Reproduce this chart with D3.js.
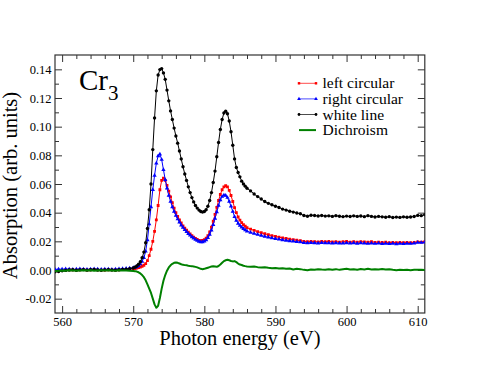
<!DOCTYPE html>
<html><head><meta charset="utf-8">
<script src="https://cdn.jsdelivr.net/npm/d3@7"></script>
<style>
body{margin:0;background:#fff}
svg{display:block;background:#fff}
svg text{font-family:"Liberation Serif","Times New Roman",Times,serif !important;fill:#000}
</style>
</head><body>
<svg id="chart" width="479" height="370"></svg>
<script>
// ---------- data ----------
const energy = [
  559,559.5,560,560.5,561,561.5,562,562.5,563,563.5,564,564.5,565,565.5,566,566.5,567,567.5,568,568.5,569,569.5,570,
  570.25,570.5,570.75,571,571.25,571.5,571.75,572,572.25,572.5,572.75,573,573.25,573.5,573.75,574,
  574.25,574.5,574.75,575,575.25,575.5,575.75,576,576.25,576.5,576.75,577,577.25,577.5,577.75,578,
  578.25,578.5,578.75,579,579.25,579.5,579.75,580,580.25,580.5,580.75,581,581.25,581.5,581.75,582,
  582.25,582.5,582.75,583,583.25,583.5,583.75,584,584.25,584.5,584.75,585,585.25,585.5,585.75,586,
  586.5,587,587.5,588,588.5,589,589.5,590,590.5,591,591.5,592,592.5,593,593.5,594,594.5,595,595.5,596,
  596.5,597,597.5,598,598.5,599,599.5,600,600.5,601,601.5,602,602.5,603,603.5,604,604.5,605,605.5,606,
  606.5,607,607.5,608,608.5,609,609.5,610,610.5,611
];
const whiteLine = [
  -0.0012,-0.0010,-0.0006,-0.0003,0.0000,0.0002,-0.0002,0.0001,0.0003,-0.0001,0.0002,0.0004,0.0000,-0.0002,0.0001,0.0003,0.0000,-0.0001,0.0002,0.0004,0.0006,0.0009,0.0014,
  0.0020,0.0028,0.0040,0.0058,0.0085,0.0125,0.0190,0.0290,0.0420,0.0600,0.0840,0.1060,0.1250,0.1360,0.1398,0.1405,
  0.1375,0.1330,0.1255,0.1180,0.1110,0.1050,0.0990,0.0935,0.0885,0.0830,0.0775,0.0720,0.0670,0.0625,0.0580,0.0540,
  0.0505,0.0475,0.0450,0.0432,0.0418,0.0408,0.0404,0.0408,0.0420,0.0445,0.0485,0.0540,0.0610,0.0690,0.0790,0.0890,
  0.0980,0.1050,0.1095,0.1108,0.1090,0.1040,0.0965,0.0870,0.0775,0.0715,0.0680,0.0650,0.0620,0.0600,0.0585,0.0570,
  0.0552,0.0530,0.0512,0.0495,0.0478,0.0465,0.0455,0.0445,0.0436,0.0425,0.0418,0.0410,0.0404,0.0398,0.0392,0.0380,0.0375,0.0382,0.0380,0.0377,
  0.0380,0.0376,0.0378,0.0374,0.0379,0.0375,0.0372,0.0376,0.0373,0.0378,0.0374,0.0377,0.0372,0.0379,0.0374,0.0370,0.0374,0.0371,0.0368,0.0372,
  0.0366,0.0369,0.0367,0.0371,0.0368,0.0370,0.0373,0.0381,0.0379,0.0386
];
const leftCircular = [
  -0.0006,-0.0004,-0.0002,0.0000,0.0002,0.0001,-0.0001,0.0002,0.0003,0.0000,0.0001,0.0003,0.0001,-0.0001,0.0000,0.0002,0.0001,0.0000,0.0002,0.0003,0.0004,0.0006,0.0008,
  0.0010,0.0013,0.0017,0.0021,0.0026,0.0033,0.0045,0.0065,0.0100,0.0145,0.0200,0.0270,0.0350,0.0450,0.0560,0.0625,
  0.0640,0.0625,0.0590,0.0550,0.0510,0.0470,0.0432,0.0400,0.0373,0.0350,0.0328,0.0308,0.0292,0.0278,0.0264,0.0252,
  0.0240,0.0229,0.0220,0.0213,0.0207,0.0205,0.0206,0.0211,0.0222,0.0240,0.0265,0.0298,0.0340,0.0388,0.0437,0.0485,
  0.0527,0.0560,0.0580,0.0588,0.0580,0.0556,0.0520,0.0478,0.0435,0.0400,0.0370,0.0348,0.0330,0.0316,0.0305,0.0295,
  0.0285,0.0276,0.0268,0.0260,0.0253,0.0246,0.0240,0.0234,0.0229,0.0224,0.0220,0.0216,0.0212,0.0208,0.0205,0.0200,0.0197,0.0199,0.0198,0.0196,
  0.0199,0.0197,0.0200,0.0196,0.0198,0.0195,0.0197,0.0199,0.0195,0.0197,0.0194,0.0198,0.0196,0.0194,0.0197,0.0193,0.0195,0.0192,0.0194,0.0191,
  0.0193,0.0190,0.0192,0.0191,0.0193,0.0190,0.0192,0.0196,0.0195,0.0197
];
const rightCircular = [
  0.0004,0.0006,0.0005,0.0007,0.0006,0.0004,0.0005,0.0007,0.0006,0.0004,0.0006,0.0007,0.0005,0.0004,0.0006,0.0005,0.0004,0.0006,0.0007,0.0008,0.0010,0.0012,0.0015,
  0.0018,0.0022,0.0030,0.0042,0.0060,0.0085,0.0130,0.0210,0.0320,0.0440,0.0560,0.0660,0.0745,0.0795,0.0808,0.0770,
  0.0700,0.0630,0.0570,0.0520,0.0478,0.0440,0.0408,0.0380,0.0355,0.0333,0.0313,0.0296,0.0280,0.0266,0.0253,0.0242,
  0.0231,0.0221,0.0212,0.0205,0.0199,0.0196,0.0196,0.0200,0.0210,0.0225,0.0248,0.0278,0.0315,0.0360,0.0405,0.0450,
  0.0488,0.0512,0.0522,0.0520,0.0505,0.0478,0.0445,0.0408,0.0372,0.0345,0.0325,0.0310,0.0298,0.0288,0.0279,0.0271,
  0.0262,0.0254,0.0247,0.0240,0.0234,0.0228,0.0223,0.0218,0.0214,0.0210,0.0206,0.0203,0.0200,0.0197,0.0195,0.0190,0.0188,0.0190,0.0189,0.0187,
  0.0190,0.0188,0.0189,0.0186,0.0189,0.0187,0.0186,0.0189,0.0186,0.0188,0.0185,0.0188,0.0186,0.0184,0.0187,0.0184,0.0186,0.0183,0.0185,0.0183,
  0.0185,0.0182,0.0184,0.0183,0.0185,0.0184,0.0186,0.0192,0.0191,0.0194
];
const dichroism = [
  -0.0008,-0.0006,-0.0003,-0.0005,-0.0002,-0.0004,-0.0006,-0.0003,-0.0001,-0.0004,-0.0002,-0.0005,-0.0003,-0.0001,-0.0004,-0.0002,-0.0003,-0.0005,-0.0002,-0.0003,-0.0004,-0.0005,-0.0007,
  -0.0008,-0.0011,-0.0016,-0.0024,-0.0035,-0.0050,-0.0072,-0.0100,-0.0130,-0.0160,-0.0200,-0.0240,-0.0263,-0.0250,-0.0195,-0.0130,
  -0.0075,-0.0035,-0.0005,0.0018,0.0033,0.0043,0.0050,0.0053,0.0050,0.0045,0.0040,0.0036,0.0034,0.0033,0.0030,0.0028,
  0.0027,0.0025,0.0022,0.0018,0.0013,0.0008,0.0006,0.0008,0.0012,0.0016,0.0020,0.0024,0.0026,0.0024,0.0022,0.0028,
  0.0038,0.0050,0.0062,0.0068,0.0072,0.0068,0.0063,0.0060,0.0062,0.0055,0.0045,0.0038,0.0035,0.0030,0.0027,0.0025,
  0.0022,0.0024,0.0020,0.0018,0.0019,0.0015,0.0012,0.0014,0.0010,0.0012,0.0008,0.0010,0.0004,0.0009,0.0006,0.0001,-0.0002,0.0004,0.0002,0.0006,
  0.0003,0.0001,0.0005,0.0002,0.0006,0.0001,0.0005,0.0008,0.0003,0.0006,0.0002,0.0007,0.0004,0.0008,0.0003,0.0006,0.0004,0.0007,0.0003,0.0005,
  0.0001,-0.0001,0.0002,0.0000,0.0001,-0.0001,0.0001,0.0002,0.0001,0.0000
];
const seriesNames = ["left circular","right circular","white line","Dichroism"];
const xTickValues = [560,570,580,590,600,610];
const yTickValues = [-0.02,0.00,0.02,0.04,0.06,0.08,0.10,0.12,0.14];
const xLabel = "Photon energy (eV)";
const yLabel = "Absorption (arb. units)";

// ---------- chart ----------
const FONT = '"Liberation Serif","Times New Roman",Times,serif';
const svg = d3.select("#chart");
const L = 55, R = 424.8, T = 55, B = 313;
const x = d3.scaleLinear().domain([559, 611]).range([L, R]);
const y = d3.scaleLinear().domain([-0.03, 0.15]).range([B, T]);
const axisColor = "#333";

const xMinor = d3.range(560, 611, 2).filter(v => !xTickValues.includes(v));
const yMinor = d3.range(-3, 16, 2).map(v => v / 100).filter(v => v > -0.03 && v < 0.15);

svg.append("defs").append("clipPath").attr("id","clip")
  .append("rect").attr("x",L).attr("y",T).attr("width",R-L).attr("height",B-T);

function styleAxis(g){
  g.attr("font-family", FONT);
  g.select(".domain").remove();
  g.selectAll(".tick line").attr("stroke", axisColor);
  g.selectAll("text").style("font-family", FONT).style("font-size","12.5px").attr("fill","#000");
}
const fmtX = d => String(d);
const fmtY = d => d.toFixed(2);

// bottom
svg.append("g").attr("transform",`translate(0,${B})`)
  .call(d3.axisBottom(x).tickValues(xTickValues).tickSize(-7).tickPadding(4.5).tickFormat(fmtX)).call(styleAxis);
svg.append("g").attr("transform",`translate(0,${B})`)
  .call(d3.axisBottom(x).tickValues(xMinor).tickSize(-4).tickFormat("")).call(styleAxis);
// top
svg.append("g").attr("transform",`translate(0,${T})`)
  .call(d3.axisTop(x).tickValues(xTickValues).tickSize(-7).tickFormat("")).call(styleAxis);
svg.append("g").attr("transform",`translate(0,${T})`)
  .call(d3.axisTop(x).tickValues(xMinor).tickSize(-4).tickFormat("")).call(styleAxis);
// left
svg.append("g").attr("transform",`translate(${L},0)`)
  .call(d3.axisLeft(y).tickValues(yTickValues).tickSize(-7).tickPadding(3.5).tickFormat(fmtY)).call(styleAxis);
svg.append("g").attr("transform",`translate(${L},0)`)
  .call(d3.axisLeft(y).tickValues(yMinor).tickSize(-4).tickFormat("")).call(styleAxis);
// right
svg.append("g").attr("transform",`translate(${R},0)`)
  .call(d3.axisRight(y).tickValues(yTickValues).tickSize(-7).tickFormat("")).call(styleAxis);
svg.append("g").attr("transform",`translate(${R},0)`)
  .call(d3.axisRight(y).tickValues(yMinor).tickSize(-4).tickFormat("")).call(styleAxis);

// frame
svg.append("rect").attr("x",L).attr("y",T).attr("width",R-L).attr("height",B-T)
  .attr("fill","none").attr("stroke",axisColor).attr("stroke-width",1.2);

// series
const series = [
  {name: seriesNames[0], values: leftCircular,  color: "#ff0000", width: 1, symbol: d3.symbolSquare,   size: 8},
  {name: seriesNames[1], values: rightCircular, color: "#0000ff", width: 1, symbol: d3.symbolTriangle, size: 8},
  {name: seriesNames[2], values: whiteLine,     color: "#000000", width: 1, symbol: d3.symbolCircle,   size: 9},
  {name: seriesNames[3], values: dichroism,     color: "#008000", width: 2, symbol: null, size: 0}
];
const line = d3.line().x(d => x(d[0])).y(d => y(d[1]));
const plot = svg.append("g").attr("clip-path","url(#clip)");
series.forEach(s => {
  const pts = energy.map((e,i) => [e, s.values[i]]).filter(p => p[1] !== undefined);
  plot.append("path").datum(pts).attr("d", line)
    .attr("fill","none").attr("stroke", s.color).attr("stroke-width", s.width).attr("stroke-linejoin","round");
  if (s.symbol) {
    const sym = d3.symbol().type(s.symbol).size(s.size)();
    plot.append("g").selectAll("path").data(pts).join("path")
      .attr("d", sym).attr("transform", d => `translate(${x(d[0])},${y(d[1])})`)
      .attr("fill", s.color);
  }
});

// legend
const lg = svg.append("g").attr("transform","translate(299,83.3)");
series.forEach((s,i) => {
  const g = lg.append("g").attr("transform",`translate(0,${i*15.6})`);
  g.append("line").attr("x1",0).attr("x2",17).attr("y1",0).attr("y2",0)
    .attr("stroke", s.color).attr("stroke-width", s.width).attr("stroke-opacity", s.symbol ? 0.7 : 1);
  if (s.symbol) {
    const sym = d3.symbol().type(s.symbol).size(6)();
    [0,17].forEach(px => g.append("path").attr("d",sym).attr("transform",`translate(${px},0)`).attr("fill",s.color));
  }
  g.append("text").attr("x",23.5).attr("y",0).attr("dy","0.33em")
    .style("font-family", FONT).style("font-size","15.5px").text(s.name);
});

// axis titles
svg.append("text").attr("x",(L+R)/2).attr("y",344.5).attr("text-anchor","middle")
  .style("font-family", FONT).style("font-size","20.5px").text(xLabel);
svg.append("text").attr("transform","translate(17,185.5) rotate(-90)").attr("text-anchor","middle")
  .style("font-family", FONT).style("font-size","20.5px").text(yLabel);

// panel label Cr3
const cr = svg.append("text").attr("x",79).attr("y",90).style("font-family", FONT).style("font-size","29px");
cr.append("tspan").text("Cr");
cr.append("tspan").style("font-size","21px").attr("dy",10).text("3");
</script>
</body></html>
